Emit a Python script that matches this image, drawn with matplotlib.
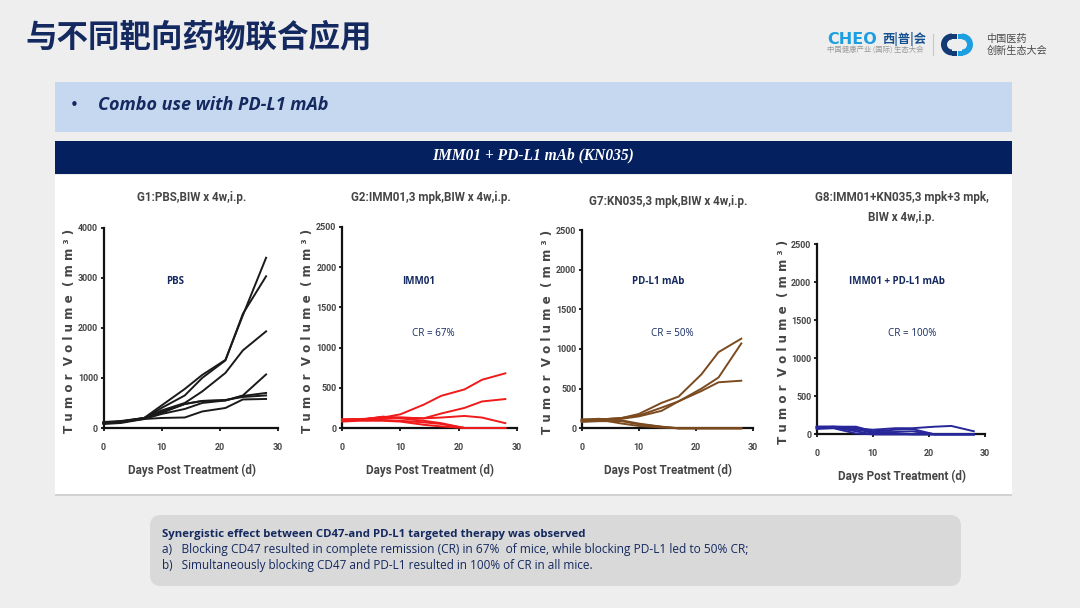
import matplotlib
matplotlib.use("agg")
import matplotlib.pyplot as plt
from matplotlib.patches import FancyBboxPatch, Rectangle, Wedge

W, H = 1080, 608
NAVY = "#14295f"
INK = "#454545"

days = [0, 3, 7, 10, 14, 17, 21, 24, 28]

g1_lines = [
    [100, 130, 200, 450, 780, 1060, 1360, 2250, 3400],
    [90, 120, 190, 400, 650, 1000, 1350, 2280, 3030],
    [120, 140, 200, 350, 500, 730, 1100, 1550, 1930],
    [110, 130, 190, 300, 480, 540, 550, 640, 700],
    [100, 120, 180, 280, 380, 500, 550, 650, 1070],
    [80, 100, 180, 200, 210, 330, 400, 570, 580],
    [100, 120, 200, 320, 480, 540, 560, 620, 650],
]
g2_lines = [
    [100, 110, 130, 170, 290, 400, 480, 600, 680],
    [110, 110, 120, 130, 120, 180, 250, 330, 360],
    [90, 100, 140, 130, 120, 130, 150, 130, 60],
    [80, 90, 90, 80, 40, 20, 0, 0, 0],
    [100, 110, 100, 90, 70, 50, 0, 0, 0],
    [100, 100, 140, 120, 90, 60, 0, 0, 0],
]
g7_lines = [
    [100, 110, 130, 180, 320, 400, 680, 960, 1130],
    [90, 100, 120, 150, 220, 340, 500, 640, 1070],
    [110, 110, 130, 160, 260, 340, 470, 580, 600],
    [100, 110, 60, 30, 10, 0, 0, 0, 0],
    [80, 90, 90, 50, 20, 0, 0, 0, 0],
    [110, 120, 100, 60, 20, 0, 0, 0, 0],
]
g8_lines = [
    [90, 100, 80, 60, 80, 80, 100, 110, 40],
    [100, 100, 100, 40, 60, 70, 0, 0, 0],
    [80, 90, 60, 30, 30, 40, 0, 0, 0],
    [100, 100, 90, 10, 10, 0, 0, 0, 0],
    [90, 90, 40, 0, 0, 0, 0, 0, 0],
    [70, 80, 10, 0, 0, 0, 0, 0, 0],
]

# title, lines, colour, ymax, yticks, axes box in pixels, title y, ylabel x, labels
panels = [
    ("G1:PBS,BIW x 4w,i.p.", g1_lines, "#1a1a1a", 4000, [0, 1000, 2000, 3000, 4000],
     (103.5, 277.7, 227.7, 428), 198, 70, ("PBS", 175), None),
    ("G2:IMM01,3 mpk,BIW x 4w,i.p.", g2_lines, "#f01a1a", 2500, [0, 500, 1000, 1500, 2000, 2500],
     (342, 517, 227, 428), 198, 308, ("IMM01", 419), ("CR = 67%", 433)),
    ("G7:KN035,3 mpk,BIW x 4w,i.p.", g7_lines, "#7b4a1e", 2500, [0, 500, 1000, 1500, 2000, 2500],
     (581.7, 752.7, 230, 428.3), 202, 547, ("PD-L1 mAb", 658.5), ("CR = 50%", 672.5)),
    ("G8:IMM01+KN035,3 mpk+3 mpk,\nBIW x 4w,i.p.", g8_lines, "#27279a", 2500, [0, 500, 1000, 1500, 2000, 2500],
     (816.7, 985, 244.3, 434.3), 207, 783, ("IMM01 + PD-L1 mAb", 897), ("CR = 100%", 912)),
]

plt.rcParams["font.family"] = ["Open Sans", "Noto Sans CJK SC", "DejaVu Sans"]

fig = plt.figure(figsize=(W / 100, H / 100), dpi=100, facecolor="#eeeeee")
bg = fig.add_axes([0, 0, 1, 1])
bg.set_xlim(0, W)
bg.set_ylim(H, 0)
bg.axis("off")

bg.text(25, 37, "与不同靶向药物联合应用", fontsize=22.7, fontweight="bold", color=NAVY,
        family=["Noto Sans CJK SC", "DejaVu Sans"], va="center")

# top banner and header
bg.add_patch(Rectangle((55, 82), 957, 50, fc="#c5d8ef", ec="none"))
bg.text(74, 105, "•", fontsize=11, color=NAVY, va="center", ha="center", family=["DejaVu Sans"])
bg.text(98, 105, "Combo use with PD-L1 mAb", fontsize=12.95, fontweight="bold", style="italic",
        color=NAVY, va="center")
bg.add_patch(Rectangle((55, 141), 957, 33, fc="#04205f", ec="none"))
bg.text(533, 155, "IMM01 + PD-L1 mAb (KN035)", fontsize=11.2, fontweight="bold", style="italic",
        family=["Liberation Serif"], color="white", ha="center", va="center")

# white panel behind the charts, with soft lower edge
bg.add_patch(Rectangle((55, 176), 957, 320, fc="#d2d2d2", ec="none"))
bg.add_patch(Rectangle((55, 175), 957, 319, fc="white", ec="none"))

# conclusion box
bg.add_patch(FancyBboxPatch((150, 515), 811, 71, boxstyle="round,pad=0,rounding_size=11",
                            fc="#d9d9d9", ec="none"))
bg.text(162, 535, "Synergistic effect between CD47-and PD-L1 targeted therapy was observed",
        fontsize=8.2, fontweight="bold", color=NAVY, va="center")
bg.text(162, 550, "a)   Blocking CD47 resulted in complete remission (CR) in 67%  of mice, while blocking PD-L1 led to 50% CR;",
        fontsize=8.58, color=NAVY, va="center")
bg.text(162, 566, "b)   Simultaneously blocking CD47 and PD-L1 resulted in 100% of CR in all mice.",
        fontsize=8.5, color=NAVY, va="center")

# logos, left
bg.text(827, 39, "CHEO", fontsize=11.5, fontweight="bold", color="#1c9fe0", va="center",
        family=["DejaVu Sans"])
bg.text(882, 39, "西|普|会", fontsize=8.8, fontweight="bold", color="#14508f", va="center",
        family=["Noto Sans CJK SC"])
bg.text(827, 51, "中国健康产业 (国际) 生态大会", fontsize=5.3, color="#9a9a9a", va="center",
        family=["Noto Sans CJK SC"])
bg.plot([932.5, 932.5], [34, 55], color="#c8c8c8", lw=0.8)
# logo mark
bg.add_patch(Wedge((952, 44.5), 11, 90, 270, width=6, fc="#123a74", ec="none"))
bg.add_patch(Wedge((962, 44.5), 11, -90, 90, width=6, fc="#1c9fe0", ec="none"))
bg.add_patch(Rectangle((952, 33.5), 5, 5, fc="#123a74", ec="none"))
bg.add_patch(Rectangle((957.5, 33.5), 5, 5, fc="#1c9fe0", ec="none"))
bg.add_patch(Rectangle((957.5, 50.5), 5, 5, fc="#1c9fe0", ec="none"))
bg.add_patch(Rectangle((952, 50.5), 5, 5, fc="#123a74", ec="none"))
bg.text(986.5, 38.5, "中国医药", fontsize=7.3, color="#4a4a4a", va="center", family=["Noto Sans CJK SC"])
bg.text(986.5, 50.5, "创新生态大会", fontsize=7.3, color="#4a4a4a", va="center", family=["Noto Sans CJK SC"])

for title, lines, color, ymax, yticks, box, title_y, ylabel_x, label, cr in panels:
    x0, x1, ytop, ybot = box
    ax = fig.add_axes([x0 / W, 1 - ybot / H, (x1 - x0) / W, (ybot - ytop) / H], facecolor="none")
    ax.set_xlim(0, 30)
    ax.set_ylim(0, ymax)
    for s in ("top", "right"):
        ax.spines[s].set_visible(False)
    for s in ("left", "bottom"):
        ax.spines[s].set_linewidth(1.6)
        ax.spines[s].set_color("#111111")
    for ys in lines:
        ax.plot(days, ys, color=color, lw=1.4, clip_on=False, zorder=3)
    ax.set_xticks([0, 10, 20, 30])
    ax.set_yticks(yticks)
    ax.tick_params(length=2.5, width=1.3, labelsize=6.4, labelcolor=INK, color="#111111")
    ax.tick_params(axis="x", pad=8)
    ax.tick_params(axis="y", pad=1.5)
    for t in ax.get_xticklabels() + ax.get_yticklabels():
        t.set_fontweight("bold")
        t.set_family(["Roboto"])
    cx = (x0 + x1) / 2
    bg.text(cx + 1, ybot + 42, "Days Post Treatment (d)", fontsize=8.4, fontweight="bold",
            color=INK, ha="center", va="center", family=["Roboto"])
    bg.text(ylabel_x, (ytop + ybot) / 2 + 3, "T u m o r  V o l u m e  ( m m ³ )", fontsize=8.6,
            fontweight="bold", color=INK, rotation=90, ha="center", va="center", family=["DejaVu Sans"])
    bg.text(cx + 1, title_y, title, fontsize=8.4, fontweight="bold", color=INK, ha="center",
            va="center", linespacing=1.7, family=["Roboto"])
    bg.text(label[1], 281, label[0], fontsize=7, fontweight="bold", color=NAVY, ha="center", va="center")
    if cr:
        bg.text(cr[1], 333.5, cr[0], fontsize=7.1, color=NAVY, ha="center", va="center")

fig.savefig("out.png", dpi=100, facecolor=fig.get_facecolor())
